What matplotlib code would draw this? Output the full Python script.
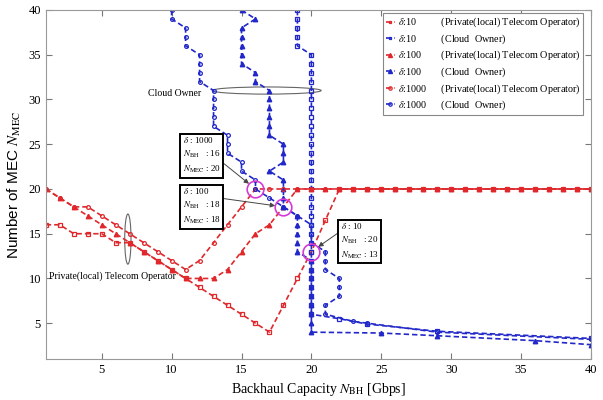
import matplotlib
matplotlib.use('Agg')
import matplotlib.pyplot as plt
from matplotlib.patches import Ellipse

plt.rcParams['font.family'] = ['Liberation Serif', 'DejaVu Serif']
plt.rcParams['mathtext.fontset'] = 'stix'

# backhaul capacity for the telecom operator curves
red_x = [1, 2, 3, 4, 5, 6, 7, 8, 9, 10, 11, 12, 13, 14, 15, 16, 17, 18, 19, 20,
         21, 22, 23, 24, 25, 26, 27, 28, 29, 30, 31, 32, 33, 34, 35, 36, 37, 38, 39, 40]
red_10 = [16, 16, 15, 15, 15, 14, 14, 13, 12, 11, 10, 9, 8, 7, 6, 5, 4, 7, 10, 13,
          16.5, 20, 20, 20, 20, 20, 20, 20, 20, 20, 20, 20, 20, 20, 20, 20, 20, 20, 20, 20]
red_100 = [20, 19, 18, 17, 16, 15, 14, 13, 12, 11, 10, 10, 10, 11, 13, 15, 16, 18, 20, 20,
           20, 20, 20, 20, 20, 20, 20, 20, 20, 20, 20, 20, 20, 20, 20, 20, 20, 20, 20, 20]
red_1000 = [20, 19, 18, 18, 17, 16, 15, 14, 13, 12, 11, 12, 14, 16, 18, 20, 20, 20, 20, 20,
            20, 20, 20, 20, 20, 20, 20, 20, 20, 20, 20, 20, 20, 20, 20, 20, 20, 20, 20, 20]

# cloud owner curves
blue_10_x = [19, 19, 19, 19, 19, 20, 20, 20, 20, 20, 20, 20, 20, 20, 20, 20, 20, 20, 20, 20,
             20, 20, 20, 20, 20, 20, 20, 20, 20, 20, 20, 20, 20, 20, 20, 22, 24, 29, 40]
blue_10_y = [40, 39, 38, 37, 36, 35, 34, 33, 32, 31, 30, 29, 28, 27, 26, 25, 24, 23, 22, 21,
             20, 19, 18, 17, 16, 15, 14, 13, 12, 11, 10, 9, 8, 7, 6, 5.5, 4.9, 4.1, 3.3]
blue_100_x = [15, 16, 15, 15, 15, 15, 15, 16, 16, 17, 17, 17, 17, 17, 17, 18, 18, 18, 17, 18,
              18, 18, 18, 19, 19, 19, 19, 19, 20, 20, 20, 20, 20, 20, 20, 20, 20, 25, 29, 36, 40]
blue_100_y = [40, 39, 38, 37, 36, 35, 34, 33, 32, 31, 30, 29, 28, 27, 26, 25, 24, 23, 22, 21,
              20, 19, 18, 17, 16, 15, 14, 13, 12, 11, 10, 9, 8, 7, 6, 5, 4, 3.9, 3.6, 3.05, 2.6]
blue_1000_x = [10, 10, 11, 11, 11, 12, 12, 12, 12, 13, 13, 13, 13, 13, 14, 14, 14, 15, 15, 16,
               16, 17, 18, 19, 20, 20, 20, 21, 21, 21, 22, 22, 22, 21, 21, 23, 24, 29, 40]
blue_1000_y = [40, 39, 38, 37, 36, 35, 34, 33, 32, 31, 30, 29, 28, 27, 26, 25, 24, 23, 22, 21,
               20, 19, 18, 17, 16, 15, 14, 13, 12, 11, 10, 9, 8, 7, 6, 5.2, 5.0, 4.0, 3.2]

# equilibrium points (delta, N_BH, N_MEC)
eq_delta = ['1000', '100', '10']
eq_bh = [16, 18, 20]
eq_mec = [20, 18, 13]

RED = '#e0282c'
BLUE = '#2127c8'
sp = '\u2002'

fig = plt.figure(figsize=(6.03, 4.0), dpi=100)
ax = fig.add_axes([0.076, 0.1025, 0.904, 0.8725])

kw = dict(linestyle='--', dashes=(3.2, 1.8), linewidth=1.2)
ax.plot(red_x, red_10, color=RED, marker='s', markersize=2.3, markerfacecolor='none',
        markeredgewidth=0.9, label=r'$\delta$:10' + sp * 5 + '(Private(local) Telecom Operator)', **kw)
ax.plot(blue_10_x, blue_10_y, color=BLUE, marker='s', markersize=2.3, markerfacecolor='none',
        markeredgewidth=0.9, label=r'$\delta$:10' + sp * 5 + '(Cloud  Owner)', **kw)
ax.plot(red_x, red_100, color=RED, marker='^', markersize=3.2,
        label=r'$\delta$:100' + sp * 4 + '(Private(local) Telecom Operator)', **kw)
ax.plot(blue_100_x, blue_100_y, color=BLUE, marker='^', markersize=3.2,
        label=r'$\delta$:100' + sp * 4 + '(Cloud  Owner)', **kw)
ax.plot(red_x, red_1000, color=RED, marker='o', markersize=2.7, markerfacecolor='none',
        markeredgewidth=0.9, label=r'$\delta$:1000' + sp * 3 + '(Private(local) Telecom Operator)', **kw)
ax.plot(blue_1000_x, blue_1000_y, color=BLUE, marker='o', markersize=2.7, markerfacecolor='none',
        markeredgewidth=0.9, label=r'$\delta$:1000' + sp * 3 + '(Cloud  Owner)', **kw)

ax.plot(eq_bh, eq_mec, linestyle='none', marker='o', markersize=12, markerfacecolor='none',
        markeredgecolor='#d63bd6', markeredgewidth=1.2)

# callouts
box_pos = [(10.8, 26.0), (10.8, 20.3), (22.1, 16.4)]
rel = [(1, 0.35), (1, 0.7), (0, 0.75)]
for d, bh, mec, pos, rp in zip(eq_delta, eq_bh, eq_mec, box_pos, rel):
    txt = r'$\delta$ : %s' % d + '\n' + r'$N_{\rm BH}$   : %d' % bh + '\n' + r'$N_{\rm MEC}$ : %d' % mec
    ax.annotate(txt, xy=(bh, mec), xytext=pos, ha='left', va='top', fontsize=6.5,
                linespacing=1.45,
                bbox=dict(boxstyle='square,pad=0.3', facecolor='white', edgecolor='black', linewidth=1.4),
                arrowprops=dict(arrowstyle='-|>', color='#444444', linewidth=0.7, mutation_scale=7,
                                relpos=rp, shrinkA=0, shrinkB=6))

ax.add_patch(Ellipse((16.8, 31.0), 7.8, 0.8, fill=False, edgecolor='#666666', linewidth=0.8))
ax.text(12.1, 30.65, 'Cloud Owner', fontsize=7, ha='right', va='center')
ax.add_patch(Ellipse((6.87, 14.4), 0.45, 5.6, fill=False, edgecolor='#666666', linewidth=0.8))
ax.text(5.8, 10.3, 'Private(local) Telecom Operator', fontsize=7, ha='center', va='center')

ax.set_xlim(1, 40)
ax.set_ylim(1, 40)
ax.set_xticks([5, 10, 15, 20, 25, 30, 35, 40])
ax.set_yticks([5, 10, 15, 20, 25, 30, 35, 40])
ax.tick_params(direction='in', top=True, right=True, labelsize=9, color='#777777', length=4)
for s in ax.spines.values():
    s.set_color('#999999')

ax.set_xlabel(r'Backhaul Capacity $N_{\rm BH}$ [Gbps]', fontsize=10, labelpad=4)
ax.set_ylabel(r'Number of MEC $N_{\rm MEC}$', fontsize=11, family=['Liberation Sans', 'DejaVu Sans'],
              labelpad=4)

leg = ax.legend(loc='upper right', bbox_to_anchor=(0.986, 0.992), borderaxespad=0, fontsize=7.3,
                handlelength=0.9, handletextpad=0.25, labelspacing=0.3, fancybox=False,
                edgecolor='#888888', framealpha=1, borderpad=0.3, markerscale=0.9)
leg.get_frame().set_linewidth(0.8)

fig.savefig('out.png', dpi=100)
